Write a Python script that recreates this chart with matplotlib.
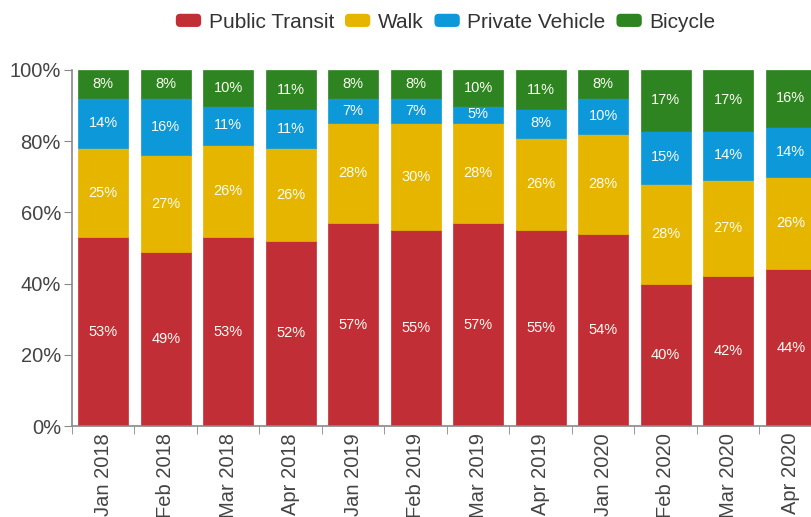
import matplotlib
matplotlib.use("Agg")
import matplotlib.pyplot as plt
import numpy as np
from matplotlib.patches import FancyBboxPatch
from matplotlib.legend_handler import HandlerPatch
from matplotlib.container import BarContainer

plt.rcParams['font.family'] = ['Liberation Sans', 'DejaVu Sans']

categories = ["Jan 2018", "Feb 2018", "Mar 2018", "Apr 2018", "Jan 2019", "Feb 2019",
              "Mar 2019", "Apr 2019", "Jan 2020", "Feb 2020", "Mar 2020", "Apr 2020"]
public_transit = [53, 49, 53, 52, 57, 55, 57, 55, 54, 40, 42, 44]
walk = [25, 27, 26, 26, 28, 30, 28, 26, 28, 28, 27, 26]
private_vehicle = [14, 16, 11, 11, 7, 7, 5, 8, 10, 15, 14, 14]
bicycle = [8, 8, 10, 11, 8, 8, 10, 11, 8, 17, 17, 16]

series = [("Public Transit", public_transit, "#c22e36"),
          ("Walk", walk, "#e5b500"),
          ("Private Vehicle", private_vehicle, "#0d98da"),
          ("Bicycle", bicycle, "#2e8420")]

fig = plt.figure(figsize=(8.12, 5.17), dpi=100)
ax = fig.add_axes([72/812, 91/517, 750/812, 356/517])

x = np.arange(len(categories))
bottom = np.zeros(len(categories))
handles = []
for name, vals, color in series:
    vals = np.array(vals, dtype=float)
    bars = ax.bar(x, vals, bottom=bottom, width=0.8, color=color, edgecolor=color,
                  linewidth=0.5, label=name)
    handles.append(bars)
    for xi, b, v in zip(x, bottom, vals):
        ax.text(xi, b + v / 2, f"{int(v)}%", ha="center", va="center",
                color="#fdfdf5", fontsize=10.5)
    bottom += vals

ax.set_xlim(-0.5, len(categories) - 0.5)
ax.set_ylim(0, 100)
ax.set_yticks([0, 20, 40, 60, 80, 100])
ax.set_yticklabels([f"{v}%" for v in [0, 20, 40, 60, 80, 100]], fontsize=14.5, color="#444444")
ax.set_xticks(x)
ax.set_xticklabels(categories, rotation=90, fontsize=14.5, color="#444444", va="top")
ax.tick_params(axis="x", length=0, pad=5)
ax.set_xticks(np.arange(len(categories) + 1) - 0.5, minor=True)
ax.tick_params(axis="x", which="minor", length=6, color="#888888")
ax.tick_params(axis="y", length=6, color="#888888", pad=2)
for s in ["top", "right"]:
    ax.spines[s].set_visible(False)
for s in ["left", "bottom"]:
    ax.spines[s].set_color("#888888")
    ax.spines[s].set_linewidth(1.2)


class RoundHandler(HandlerPatch):
    def create_artists(self, legend, orig_handle, xdescent, ydescent, width, height, fontsize, trans):
        fc = orig_handle.patches[0].get_facecolor()
        p = FancyBboxPatch((-xdescent + 1, -ydescent + 1), width - 2, height - 2,
                           boxstyle="round,pad=0,rounding_size=3", facecolor=fc, edgecolor="none",
                           transform=trans)
        return [p]


leg = fig.legend(handles=handles, labels=[s[0] for s in series], loc="center",
                 bbox_to_anchor=(445/812, 1 - 22/517), ncol=4, frameon=False, fontsize=15,
                 handlelength=1.35, handleheight=0.8, handletextpad=0.3, columnspacing=0.45,
                 handler_map={BarContainer: RoundHandler()})
for t in leg.get_texts():
    t.set_color("#333333")

fig.savefig("out.png", dpi=100)
